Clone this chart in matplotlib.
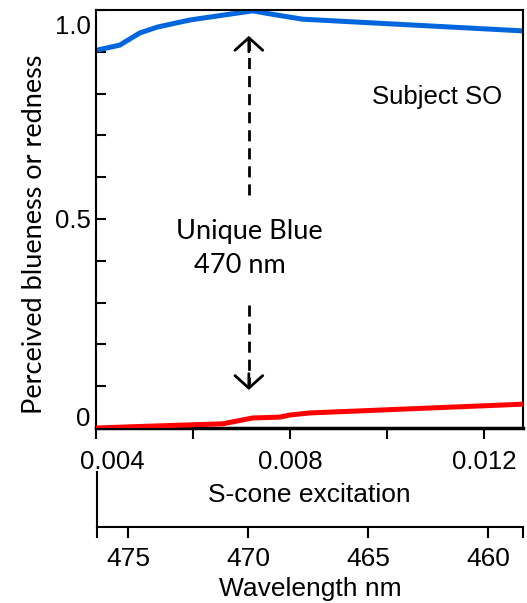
import numpy as np
import matplotlib
matplotlib.use("Agg")
import matplotlib.pyplot as plt
import matplotlib.transforms as mtransforms

plt.rcParams['font.family'] = ['Liberation Sans', 'DejaVu Sans']

# blueness curve
s_blue = [0.00402, 0.00449, 0.00490, 0.00526, 0.00593, 0.00723, 0.00772, 0.00826, 0.01280]
v_blue = [0.904, 0.916, 0.945, 0.959, 0.976, 0.998, 0.988, 0.978, 0.950]

# redness curve
s_red = [0.00400, 0.00500, 0.00661, 0.00723, 0.00779, 0.00799, 0.00840, 0.01280]
v_red = [0.000, 0.004, 0.010, 0.024, 0.026, 0.031, 0.036, 0.057]

xticks = [0.004, 0.006, 0.008, 0.010, 0.012]
xticklabels = ["0.004", "", "0.008", "", "0.012"]
yticks = np.round(np.arange(0, 1.01, 0.1), 1)
yticklabels = ["0" if t == 0 else ("0.5" if t == 0.5 else ("1.0" if t == 1.0 else "")) for t in yticks]

wl_ticks = [475, 470, 465, 460]
wl_lim = (476.3, 458.54)

unique_s = 0.00715

fig = plt.figure(figsize=(5.27, 6.03), dpi=100)
ax = fig.add_axes([96/527, 1 - 428/603, 427/527, 418/603])

ax.plot(s_blue, v_blue, color="#0066dd", lw=3.6, solid_capstyle="butt")
ax.plot(s_red, v_red, color="#ff0000", lw=3.6, solid_capstyle="butt", zorder=3)

ax.set_xlim(0.004, 0.0128)
ax.set_ylim(0, 1.0)
ax.set_xticks(xticks)
ax.set_xticklabels(xticklabels)
ax.set_yticks(yticks)
ax.set_yticklabels(yticklabels)
ax.tick_params(axis="x", direction="out", length=8, width=1.5, labelsize=18.5, pad=8)
ax.tick_params(axis="y", direction="in", length=7, width=1.5, labelsize=18.5, pad=4)
for sp in ax.spines.values():
    sp.set_linewidth(1.5)
ax.spines["bottom"].set_linewidth(2.5)
ax.set_xlabel("S-cone excitation", fontsize=19, labelpad=6.5)

# dashed double arrow marking unique blue
ax.plot([unique_s, unique_s], [0.557, 0.925], color="black", lw=2, ls=(0, (4, 2.5)))
ax.plot([unique_s, unique_s], [0.294, 0.105], color="black", lw=2, ls=(0, (4, 2.5)))
ax.annotate("", xy=(unique_s, 0.938), xytext=(unique_s, 0.90),
            arrowprops=dict(arrowstyle="->,head_length=0.45,head_width=0.5", lw=2,
                            color="black", mutation_scale=20, shrinkA=0, shrinkB=0))
ax.annotate("", xy=(unique_s, 0.091), xytext=(unique_s, 0.13),
            arrowprops=dict(arrowstyle="->,head_length=0.45,head_width=0.5", lw=2,
                            color="black", mutation_scale=20, shrinkA=0, shrinkB=0))
ax.text(unique_s, 0.471, "Unique Blue", ha="center", va="center", fontsize=19.5,
        family=["Lato", "DejaVu Sans"])
ax.text(unique_s - 0.00019, 0.388, "470 nm", ha="center", va="center", fontsize=19.5,
        family=["Lato", "DejaVu Sans"])
ax.text(0.01102, 0.792, "Subject SO", ha="center", va="center", fontsize=18.5)

fig.text(35/527, 1 - 234/603, "Perceived blueness or redness", rotation=90,
         ha="center", va="center", fontsize=19.5, family=["Lato", "DejaVu Sans"])

# wavelength axis underneath
ax2 = fig.add_axes([97/527, 1 - 527/603, 426/527, 55/603])
ax2.set_xlim(*wl_lim)
ax2.set_xticks(wl_ticks)
ax2.set_xticks(list(wl_lim), minor=True)
ax2.set_yticks([])
ax2.patch.set_alpha(0)
ax2.spines["top"].set_visible(False)
ax2.spines["right"].set_visible(False)
ax2.spines["left"].set_linewidth(1.5)
ax2.spines["bottom"].set_linewidth(1.5)
ax2.tick_params(axis="x", which="both", direction="out", length=8, width=1.5,
                labelsize=19, pad=6.5)
ax2.set_xlabel("Wavelength nm", fontsize=19, labelpad=4)

# nudge the end tick labels inward like the original
def nudge(label, dx, dy):
    off = mtransforms.ScaledTranslation(dx/72, dy/72, fig.dpi_scale_trans)
    label.set_transform(label.get_transform() + off)

xl = ax.get_xticklabels()
nudge(xl[0], 12, 0)
yl = ax.get_yticklabels()
nudge(yl[0], 0, 8)
nudge(yl[-1], 0, -10.5)

fig.savefig("out.png", dpi=100)
